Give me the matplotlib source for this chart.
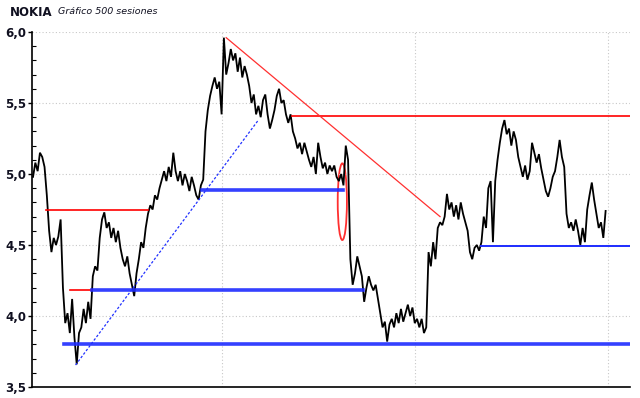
import numpy as np
import matplotlib
matplotlib.use("Agg")
import matplotlib.pyplot as plt
from matplotlib.patches import Ellipse
from matplotlib.ticker import MultipleLocator, FuncFormatter

# closing prices, one reading every 2 sessions (500 sessions in total)
session_step = 2
prices = [
    4.98, 5.08, 5.02, 5.15, 5.12, 5.05, 4.85, 4.60, 4.45, 4.55,
    4.50, 4.56, 4.68, 4.20, 3.95, 4.02, 3.88, 4.12, 3.85, 3.66,
    3.88, 3.92, 4.05, 3.95, 4.10, 3.98, 4.28, 4.35, 4.32, 4.55,
    4.68, 4.73, 4.62, 4.66, 4.55, 4.62, 4.52, 4.60, 4.48, 4.40,
    4.35, 4.42, 4.30, 4.22, 4.14, 4.30, 4.40, 4.52, 4.48, 4.62,
    4.72, 4.78, 4.75, 4.85, 4.82, 4.90, 4.96, 5.02, 4.95, 5.05,
    4.98, 5.15, 5.02, 4.95, 5.02, 4.92, 5.00, 4.95, 4.88, 4.98,
    4.92, 4.85, 4.82, 4.92, 4.96, 5.30, 5.45, 5.55, 5.62, 5.68,
    5.60, 5.65, 5.42, 5.96, 5.70, 5.78, 5.88, 5.80, 5.85, 5.72,
    5.82, 5.68, 5.76, 5.70, 5.62, 5.50, 5.56, 5.42, 5.48, 5.40,
    5.52, 5.56, 5.42, 5.32, 5.38, 5.45, 5.55, 5.60, 5.50, 5.52,
    5.42, 5.36, 5.42, 5.30, 5.25, 5.18, 5.22, 5.14, 5.22, 5.16,
    5.10, 5.05, 5.12, 5.00, 5.22, 5.12, 5.04, 5.08, 5.00, 5.06,
    5.02, 5.06, 4.98, 4.95, 5.00, 4.92, 5.20, 5.10, 4.40, 4.22,
    4.30, 4.42, 4.35, 4.28, 4.10, 4.20, 4.28, 4.22, 4.18, 4.22,
    4.12, 4.02, 3.92, 3.96, 3.82, 3.94, 3.98, 3.92, 4.02, 3.95,
    4.05, 3.96, 4.02, 4.08, 4.00, 4.06, 3.95, 3.98, 3.92, 3.98,
    3.88, 3.92, 4.45, 4.35, 4.52, 4.40, 4.62, 4.66, 4.64, 4.70,
    4.86, 4.75, 4.80, 4.70, 4.78, 4.68, 4.80, 4.72, 4.66, 4.60,
    4.45, 4.40, 4.48, 4.50, 4.46, 4.52, 4.70, 4.62, 4.90, 4.95,
    4.52, 4.95, 5.10, 5.22, 5.32, 5.38, 5.28, 5.32, 5.20, 5.30,
    5.24, 5.12, 5.05, 4.98, 5.06, 4.96, 5.02, 5.22, 5.15, 5.08,
    5.14, 5.04, 4.96, 4.88, 4.84, 4.90, 4.98, 5.02, 5.12, 5.24,
    5.12, 5.05, 4.72, 4.62, 4.66, 4.60, 4.68, 4.60, 4.50, 4.62,
    4.52, 4.75, 4.85, 4.94, 4.82, 4.72, 4.62, 4.66, 4.55, 4.74,
]

# horizontal levels: (first session, last session, price)
red_levels = [(11, 100, 4.745), (32, 51, 4.18), (225, 519, 5.41)]
blue_levels = [(27, 519, 3.80), (51, 287, 4.18), (147, 270, 4.89)]
blue_thin_levels = [(390, 519, 4.49)]

# trend lines: ((session, price), (session, price))
red_trend = ((168, 5.96), (354, 4.70))
blue_trend = ((37, 3.655), (196, 5.38))

# marked gap: centre (session, price), width in sessions, height in price
gap_mark = ((269, 4.805), 8, 0.54)

grid_sessions = [164, 332, 500]

fig = plt.figure(figsize=(6.4, 3.98), dpi=100)
ax = fig.add_axes([0.05, 0.0276, 0.934, 0.892])

x = np.arange(len(prices)) * session_step
ax.plot(x, prices, color='black', lw=1.3, solid_joinstyle='miter')

for s0, s1, lvl in red_levels:
    ax.plot([s0, s1], [lvl, lvl], color='#ff0000', lw=1.2)
for s0, s1, lvl in blue_levels:
    ax.plot([s0, s1], [lvl, lvl], color='#1e2cff', lw=2.6, alpha=0.9)
for s0, s1, lvl in blue_thin_levels:
    ax.plot([s0, s1], [lvl, lvl], color='#1e2cff', lw=1.4)

ax.plot([red_trend[0][0], red_trend[1][0]], [red_trend[0][1], red_trend[1][1]],
        color='#ff3030', lw=0.9)
ax.plot([blue_trend[0][0], blue_trend[1][0]], [blue_trend[0][1], blue_trend[1][1]],
        color='#2030ff', lw=0.9, linestyle=(0, (2, 1.5)))

ax.add_patch(Ellipse(gap_mark[0], gap_mark[1], gap_mark[2], fill=False,
                     edgecolor='#ff3030', lw=1.3))

ax.set_xlim(-0.9, 519)
ax.set_ylim(3.5, 6.0)

ax.set_xticks(grid_sessions)
ax.set_xticklabels([])
ax.tick_params(axis='x', length=0)
ax.yaxis.set_major_locator(MultipleLocator(0.5))
ax.yaxis.set_minor_locator(MultipleLocator(0.1))
ax.yaxis.set_major_formatter(FuncFormatter(lambda v, p: f"{v:.1f}".replace('.', ',')))
ax.tick_params(axis='y', which='major', direction='out', length=3, width=1,
               pad=1, labelsize=8.5, labelcolor='#101020')
ax.tick_params(axis='y', which='minor', direction='in', length=3, width=0.8)
for lab in ax.get_yticklabels():
    lab.set_fontweight('bold')

ax.grid(True, which='major', color='#c8c8c8', lw=0.8, linestyle=(0, (1, 2)))
for side in ['top', 'right']:
    ax.spines[side].set_visible(False)
ax.spines['left'].set_linewidth(1.2)
ax.spines['bottom'].set_linewidth(1.2)

fig.text(10 / 640, 1 - 12 / 398, 'NOKIA', fontsize=8.5, fontweight='bold',
         va='center', ha='left', color='#101020')
fig.text(58 / 640, 1 - 12 / 398, 'Gráfico 500 sesiones', fontsize=6.8,
         style='italic', va='center', ha='left', color='#101020')

fig.savefig('out.png', dpi=100)
